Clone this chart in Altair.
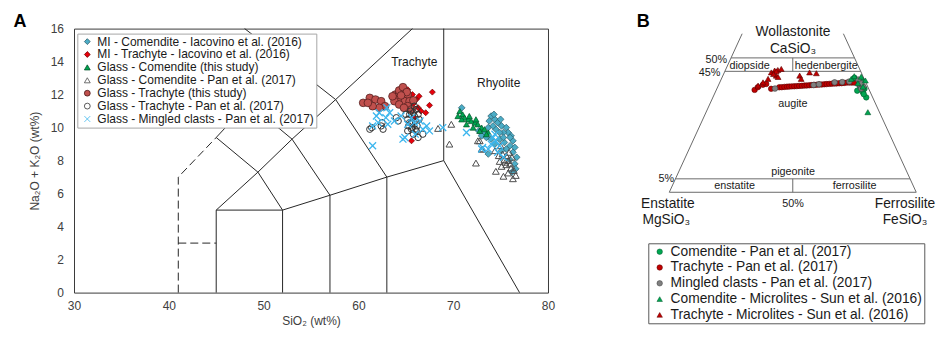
import altair as alt
import pandas as pd

FONT = "Liberation Sans"

# ---------------- Panel A : TAS diagram ----------------
series_a = [
    "MI - Comendite - Iacovino et al. (2016)",
    "MI - Trachyte - Iacovino et al. (2016)",
    "Glass - Comendite (this study)",
    "Glass - Comendite - Pan et al. (2017)",
    "Glass - Trachyte (this study)",
    "Glass - Trachyte - Pan et al. (2017)",
    "Glass - Mingled clasts - Pan et al. (2017)",
]
shape_a = ["diamond", "diamond", "triangle-up", "triangle-up", "circle", "circle",
           "M-1,-1L1,1M-1,1L1,-1"]
fill_a = ["#4bacc6", "#e8000b", "#00a651", "transparent", "#c0504d", "transparent", "transparent"]
stroke_a = ["#2b5d6b", "#6e0000", "#00532a", "#4d4d4d", "#4a1a1a", "#333333", "#3cb6ee"]
size_a = [45, 36, 36, 46, 60, 40, 48]
sw_a = [0.7, 0.7, 0.7, 1.0, 0.7, 1.0, 1.3]

mi_com_x = [70.9, 74.0, 73.8, 74.4, 74.7, 75.1, 75.6, 75.8, 75.3, 76.1, 76.3, 76.0, 76.5, 76.3, 76.7,
            76.5, 76.0, 73.7, 73.3, 73.5, 73.0, 74.0, 74.4, 74.9, 75.4, 75.6, 75.1, 75.3, 74.5, 74.2,
            74.9, 76.0, 73.7, 74.3, 75.0, 76.6, 76.2, 72.7]
mi_com_y = [11.2, 10.7, 10.4, 10.5, 10.3, 10.1, 10.0, 9.7, 9.7, 9.5, 9.2, 8.9, 8.8, 8.5, 8.2,
            7.8, 8.05, 10.0, 9.7, 9.4, 9.5, 9.3, 9.0, 9.3, 9.1, 8.7, 8.6, 9.4, 9.9, 10.1,
            9.7, 9.4, 8.4, 10.8, 10.5, 7.5, 7.3, 9.8]

mi_tra_x = [64.7, 65.2, 65.7, 66.1, 67.8, 67.5, 67.1, 66.3, 66.6, 65.8, 65.6, 65.9, 66.4]
mi_tra_y = [12.35, 12.3, 12.0, 11.7, 12.15, 11.35, 10.9, 11.2, 11.0, 11.45, 9.2, 10.6, 11.9]

gl_com_x = [70.7, 71.0, 71.2, 71.6, 71.9, 72.3, 72.6, 73.0, 73.3, 70.9, 71.4, 72.1, 72.8, 73.7,
            71.7, 72.4, 70.5, 73.5]
gl_com_y = [11.0, 10.8, 10.6, 10.5, 10.4, 10.3, 10.2, 10.0, 9.9, 10.5, 10.2, 10.0, 9.8, 9.7,
            10.7, 10.5, 10.7, 9.6]

gl_com_pan_x = [69.8, 69.6, 72.4, 72.6, 73.0, 74.5, 75.3, 75.8, 76.3, 75.1, 75.6, 76.1, 74.9, 75.4,
                68.4, 72.8, 73.1, 75.8, 76.0, 75.6, 75.9, 76.2, 75.5, 76.4, 74.8, 75.2, 76.6, 75.0, 74.4]
gl_com_pan_y = [10.2, 9.0, 7.85, 9.2, 8.7, 7.35, 7.05, 7.25, 6.9, 7.65, 7.75, 7.55, 7.95, 8.05,
                9.95, 9.2, 8.7, 8.0, 7.8, 8.3, 8.5, 8.2, 7.9, 7.4, 8.3, 8.4, 7.1, 8.9, 8.6]

gl_tra_x = [60.5, 61.2, 61.8, 62.4, 62.8, 62.2, 61.5, 61.0, 63.9, 64.3, 64.7, 65.2, 64.2, 64.9,
            65.4, 63.8, 64.3, 65.2, 64.3, 64.7, 65.1, 64.5, 65.8, 65.6, 64.8, 63.6]
gl_tra_y = [11.5, 11.8, 11.7, 11.6, 11.3, 11.2, 11.3, 11.5, 12.0, 12.1, 11.9, 12.0, 11.7, 11.6,
            11.6, 11.6, 11.4, 11.3, 12.25, 12.45, 12.15, 11.95, 11.65, 11.1, 11.2, 11.9]

gl_tra_pan_x = [61.2, 61.4, 62.4, 62.6, 64.0, 64.2, 65.8, 66.3, 66.8, 66.1, 62.5, 65.2, 65.4, 65.6,
                65.8, 66.0, 65.3, 65.7, 66.2, 65.5, 65.9, 66.1, 65.4, 65.0, 66.4, 65.6, 66.0, 65.2,
                65.9, 66.3]
gl_tra_pan_y = [9.9, 10.0, 10.1, 9.9, 10.6, 10.4, 9.6, 9.4, 9.6, 9.8, 10.3, 10.5, 10.8, 10.3,
                10.9, 10.4, 10.1, 10.0, 10.1, 11.0, 10.7, 11.1, 10.3, 10.8, 10.5, 9.9, 9.9, 9.8,
                11.3, 10.8]

mingled_x = [61.9, 62.2, 62.9, 63.3, 62.1, 61.5, 63.1, 64.5, 65.2, 65.9, 66.5, 67.2, 66.8, 64.9,
             61.5, 67.5, 63.8, 64.7, 68.9, 71.4, 73.0, 74.2, 74.5, 74.9, 74.0, 73.7, 74.7, 75.3,
             73.1, 74.4, 65.6, 66.0, 63.0]
mingled_y = [10.7, 10.9, 10.6, 10.9, 10.3, 10.1, 10.2, 10.7, 10.2, 10.3, 10.4, 10.1, 9.9, 9.4,
             8.9, 9.8, 10.4, 9.3, 10.0, 9.7, 8.7, 9.4, 9.2, 8.9, 9.0, 8.7, 8.5, 8.2,
             8.8, 9.6, 10.6, 9.6, 11.2]

xs_a = [mi_com_x, mi_tra_x, gl_com_x, gl_com_pan_x, gl_tra_x, gl_tra_pan_x, mingled_x]
ys_a = [mi_com_y, mi_tra_y, gl_com_y, gl_com_pan_y, gl_tra_y, gl_tra_pan_y, mingled_y]

rows = []
for i, name in enumerate(series_a):
    for xv, yv in zip(xs_a[i], ys_a[i]):
        rows.append({"sio2": xv, "alk": yv, "series": name, "sz": size_a[i], "sw": sw_a[i]})
df_a = pd.DataFrame(rows)

tas_solid = [
    [(45, 0), (45, 5), (49.4, 7.3), (53, 9.3), (57.6, 11.7), (65.7, 16)],
    [(45, 5), (52, 5), (57, 5.9), (63, 7), (69, 8), (77, 0)],
    [(52, 0), (52, 5)],
    [(57, 0), (57, 5.9)],
    [(63, 0), (63, 7)],
    [(69, 8), (69, 16)],
    [(49.4, 7.3), (52, 5)],
    [(45, 9.4), (49.4, 7.3)],
    [(53, 9.3), (57, 5.9)],
    [(57.6, 11.7), (63, 7)],
    [(45, 9.4), (48.4, 11.5), (52.5, 14), (48, 16)],
    [(48.4, 11.5), (53, 9.3)],
    [(52.5, 14), (57.6, 11.7)],
]
tas_dashed = [
    [(41, 0), (41, 7), (45, 9.4)],
    [(41, 3), (45, 3)],
]


def seg_frame(polys):
    out = []
    for s, poly in enumerate(polys):
        for k, (xv, yv) in enumerate(poly):
            out.append({"seg": s, "ord": k, "x": xv, "y": yv})
    return pd.DataFrame(out)


field_names = ["Trachyte", "Rhyolite"]
field_x = [65.9, 74.8]
field_y = [14.0, 12.7]
df_fields = pd.DataFrame({"name": field_names, "x": field_x, "y": field_y})

panel_a_label = ["A"]
panel_a_x = [24.3]
panel_a_y = [16.38]
df_panel_a = pd.DataFrame({"name": panel_a_label, "x": panel_a_x, "y": panel_a_y})

xsc = alt.Scale(domain=[30, 80], nice=False, zero=False)
ysc = alt.Scale(domain=[0, 16], nice=False)
x_ticks = [30, 40, 50, 60, 70, 80]
y_ticks = [0, 2, 4, 6, 8, 10, 12, 14, 16]
x_axis = alt.Axis(values=x_ticks, title="SiO₂ (wt%)", ticks=False, domain=False, grid=False,
                  labelPadding=8, titlePadding=4, labelOverlap=False, labelFlush=False,
                  tickCount=6)
y_axis = alt.Axis(values=y_ticks, title="Na₂O + K₂O (wt%)", ticks=False, domain=False, grid=False,
                  labelPadding=10.5, titlePadding=9, labelOverlap=False, labelFlush=False,
                  tickCount=9)

leg_a = alt.Legend(
    title=None, orient="none", legendX=3.3, legendY=5, fillColor="white", strokeColor="#a6a6a6",
    padding=2, symbolOffset=2, labelFont=FONT, labelFontSize=12, labelColor="#1a1a1a",
    labelLimit=600, symbolSize=34, symbolStrokeWidth=0.8, rowPadding=0.9, labelOffset=4,
)

lx = alt.X("x:Q", scale=xsc, axis=x_axis)
ly = alt.Y("y:Q", scale=ysc, axis=y_axis)
lines_a = alt.Chart(seg_frame(tas_solid)).mark_line(color="#262626", strokeWidth=1).encode(
    x=lx, y=ly, detail="seg:N", order="ord:Q")
dash_a = alt.Chart(seg_frame(tas_dashed)).mark_line(color="#262626", strokeWidth=1,
                                                    strokeDash=[8, 4]).encode(
    x=lx, y=ly, detail="seg:N", order="ord:Q")

pts_a = alt.Chart(df_a).mark_point(opacity=1).encode(
    x=alt.X("sio2:Q", scale=xsc, axis=x_axis),
    y=alt.Y("alk:Q", scale=ysc, axis=y_axis),
    shape=alt.Shape("series:N", scale=alt.Scale(domain=series_a, range=shape_a), legend=leg_a),
    fill=alt.Fill("series:N", scale=alt.Scale(domain=series_a, range=fill_a), legend=leg_a),
    stroke=alt.Stroke("series:N", scale=alt.Scale(domain=series_a, range=stroke_a), legend=leg_a),
    size=alt.Size("sz:Q", scale=None),
    strokeWidth=alt.StrokeWidth("sw:Q", scale=None),
)

txt_a = alt.Chart(df_fields).mark_text(font=FONT, fontSize=12, color="#1a1a1a").encode(
    x=lx, y=ly, text="name:N")
letter_a = alt.Chart(df_panel_a).mark_text(font=FONT, fontSize=18, fontWeight="bold",
                                           color="black").encode(x=lx, y=ly, text="name:N")

chart_a = alt.layer(lines_a, dash_a, pts_a, txt_a, letter_a).properties(
    width=474, height=264,
    view=alt.ViewBackground(stroke="#3a3a3a", strokeWidth=1),
)

# ---------------- Panel B : pyroxene quadrilateral ----------------
series_b = [
    "Comendite - Pan et al. (2017)",
    "Trachyte - Pan et al. (2017)",
    "Mingled clasts - Pan et al. (2017)",
    "Comendite - Microlites - Sun et al. (2016)",
    "Trachyte - Microlites - Sun et al. (2016)",
]
shape_b = ["circle", "circle", "circle", "triangle-up", "triangle-up"]
fill_b = ["#00a651", "#c00000", "#808080", "#00a651", "#c00000"]
stroke_b = ["#00552a", "#5c0000", "#3d3d3d", "#00552a", "#5c0000"]
size_b = [30, 30, 32, 34, 34]

com_pan_wo = [42.6, 41.6, 39.7, 38.5, 37.2, 35.3, 37.8, 36.5]
com_pan_fs = [53.7, 56.9, 57.2, 59.8, 59.8, 62.1, 57.2, 60.5]

tra_pan_wo = [38.1, 39.1, 40.0, 40.3, 38.5, 39.06, 39.1, 39.21, 39.3, 39.32, 39.4, 39.43, 39.5, 39.58,
              39.6, 39.7, 39.75, 39.81, 39.9, 39.96, 40.0, 40.07, 40.1, 40.18, 40.25, 40.33, 40.4,
              40.44, 40.5, 40.55, 40.6, 40.7, 40.8, 40.81, 40.8, 40.8]
tra_pan_fs = [15.5, 16.3, 17.9, 19.1, 22.0, 25.0, 26.0, 27.0, 28.0, 28.9, 29.9, 30.9, 31.9, 32.8,
              33.9, 34.9, 35.8, 36.8, 37.8, 38.7, 39.7, 40.7, 41.7, 42.7, 43.6, 44.6, 45.6,
              46.6, 47.5, 48.5, 49.5, 50.5, 51.5, 52.5, 53.5, 54.5]

ming_wo = [38.6, 39.9, 40.2, 40.9, 41.0, 41.2, 40.1, 38.6, 39.3, 41.9, 40.5]
ming_fs = [23.5, 38.5, 40.5, 46.5, 49.5, 52.3, 56.9, 58.4, 58.9, 55.6, 57.5]

com_mic_wo = [42.2, 43.2, 43.0, 40.6, 39.3, 29.8, 41.6]
com_mic_fs = [52.6, 53.3, 56.2, 56.1, 58.8, 65.5, 58.6]

tra_mic_wo = [39.7, 40.9, 42.2, 44.6, 45.3, 45.5, 45.9, 43.4, 42.9, 43.4, 42.2, 44.6, 44.3, 45.0, 44.0]
tra_mic_fs = [16.1, 17.5, 18.9, 19.0, 20.0, 21.2, 22.4, 21.6, 22.6, 31.1, 32.3, 34.5, 37.4, 20.8, 20.2]

draw_order_b = [1, 0, 2, 4, 3]
wos_b = [com_pan_wo, tra_pan_wo, ming_wo, com_mic_wo, tra_mic_wo]
fss_b = [com_pan_fs, tra_pan_fs, ming_fs, com_mic_fs, tra_mic_fs]
rows_b = []
for i in draw_order_b:
    for w, f in zip(wos_b[i], fss_b[i]):
        rows_b.append({"wo": w, "fs": f, "series": series_b[i], "sz": size_b[i]})
df_b = pd.DataFrame(rows_b)

# quadrilateral outline (Wo %, Fs %)
quad_lines = [
    [(0, 0), (59, 0)],
    [(0, 100), (59, 41)],
    [(50, 0), (50, 50)],
    [(45, 0), (45, 55)],
    [(45, 27.5), (50, 25)],
    [(5, 0), (5, 95)],
    [(0, 0), (0, 100)],
    [(0, 50), (5, 47.5)],
]
qrows = []
for s, poly in enumerate(quad_lines):
    for k, (w, f) in enumerate(poly):
        qrows.append({"seg": s, "ord": k, "wo": w, "fs": f})
df_q = pd.DataFrame(qrows)

lab_text = ["Wollastonite", "CaSiO₃", "50%", "45%", "diopside", "hedenbergite", "augite",
            "pigeonite", "enstatite", "ferrosilite", "5%", "50%", "Enstatite", "MgSiO₃",
            "Ferrosilite", "FeSiO₃"]
lab_wo = [59.6, 53.3, 49.3, 44.3, 47.1, 47.1, 32.9, 7.44, 2.23, 2.23, 5.0, -4.3, -4.3, -10.5,
          -4.3, -10.5]
lab_fs = [20.3, 23.45, -1.2, -1.5, 8.95, 40.0, 33.6, 46.4, 25.3, 73.9, -0.6, 52.3, 1.6, 4.05,
          97.6, 100.7]
lab_size = [13.8, 13.8, 10.8, 10.8, 10.8, 10.8, 10.8, 10.8, 10.8, 10.8, 10.8, 10.8, 13.8, 13.8,
            13.8, 13.8]
lab_align = ["center", "center", "right", "right", "center", "center", "center", "center",
             "center", "center", "right", "center", "center", "center", "center", "center"]
df_lab = pd.DataFrame({"text": lab_text, "wo": lab_wo, "fs": lab_fs, "fsz": lab_size,
                       "al": lab_align})

panel_b_label = ["B"]
panel_b_wo = [63.3]
panel_b_fs = [-42.2]
df_panel_b = pd.DataFrame({"text": panel_b_label, "wo": panel_b_wo, "fs": panel_b_fs})

xb = alt.Scale(domain=[-10, 105], nice=False, zero=False)
yb = alt.Scale(domain=[-47, 60.9], nice=False, zero=False)
bx = alt.X("t:Q", scale=xb, axis=None)
by = alt.Y("wo:Q", scale=yb, axis=None)
TCALC = "datum.fs + datum.wo / 2"

leg_b = alt.Legend(
    title=None, orient="none", legendX=3.7, legendY=214.7, fillColor="white",
    strokeColor="#595959", padding=1.5, symbolOffset=3, labelFont=FONT, labelFontSize=13.8,
    labelColor="#1a1a1a", labelLimit=600, symbolSize=30, symbolStrokeWidth=0.5, rowPadding=0.8,
    labelOffset=4,
)

quad = alt.Chart(df_q).transform_calculate(t=TCALC).mark_line(
    color="#6a6a6a", strokeWidth=1).encode(x=bx, y=by, detail="seg:N", order="ord:Q")

pts_b = alt.Chart(df_b).transform_calculate(t=TCALC).mark_point(
    opacity=1, strokeWidth=0.6).encode(
    x=bx, y=by,
    shape=alt.Shape("series:N", scale=alt.Scale(domain=series_b, range=shape_b), legend=leg_b),
    fill=alt.Fill("series:N", scale=alt.Scale(domain=series_b, range=fill_b), legend=leg_b),
    stroke=alt.Stroke("series:N", scale=alt.Scale(domain=series_b, range=stroke_b), legend=leg_b),
    size=alt.Size("sz:Q", scale=None),
)


def lab_layer(align):
    return alt.Chart(df_lab).transform_filter(alt.datum.al == align).transform_calculate(
        t=TCALC).mark_text(font=FONT, color="#1a1a1a", align=align, baseline="middle").encode(
        x=bx, y=by, text="text:N", size=alt.Size("fsz:Q", scale=None))


letter_b = alt.Chart(df_panel_b).transform_calculate(t=TCALC).mark_text(
    font=FONT, fontSize=18, fontWeight="bold", color="black").encode(x=bx, y=by, text="text:N")

chart_b = alt.layer(quad, pts_b, lab_layer("center"), lab_layer("right"), letter_b).properties(
    width=284, height=290,
    view=alt.ViewBackground(stroke="transparent"),
)

chart = alt.hconcat(chart_a, chart_b, spacing=96.6, bounds="flush").resolve_scale(
    x="independent", y="independent", shape="independent", fill="independent",
    stroke="independent", size="independent",
).resolve_legend(shape="independent", fill="independent", stroke="independent").properties(
    padding={"left": 4, "top": 4.6, "right": 0, "bottom": 0},
).configure(font=FONT).configure_axis(
    labelFont=FONT, labelFontSize=12, labelColor="#404040", titleFont=FONT, titleFontSize=12,
    titleFontWeight="normal", titleColor="#404040",
).configure_view(stroke="transparent")

chart.save("out.html", embed_options={"renderer": "svg", "actions": False})
